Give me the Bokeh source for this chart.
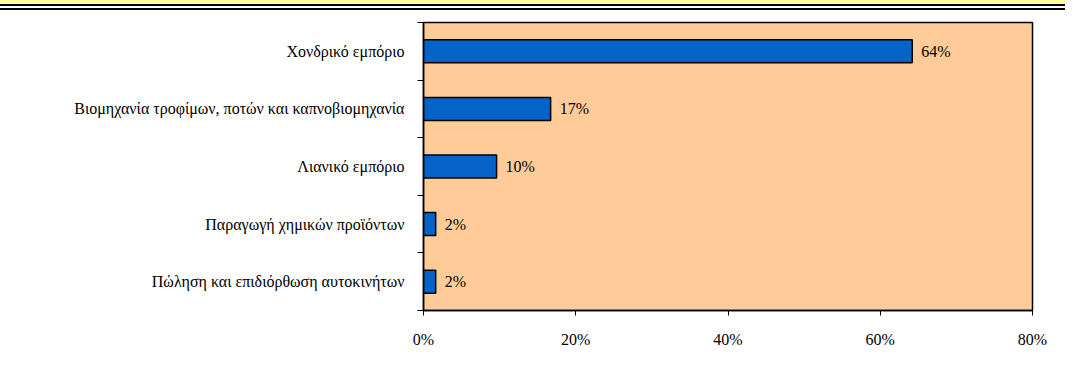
from bokeh.plotting import figure
from bokeh.models import (ColumnDataSource, FixedTicker, PrintfTickFormatter, Range1d, Div)
from bokeh.layouts import column
from bokeh.embed import file_html
from bokeh.resources import INLINE
from bokeh.core.properties import value

# ---- data ----
categories = [
    "Χονδρικό εμπόριο",
    "Βιομηχανία τροφίμων, ποτών και καπνοβιομηχανία",
    "Λιανικό εμπόριο",
    "Παραγωγή χημικών προϊόντων",
    "Πώληση και επιδιόρθωση αυτοκινήτων",
]
shares = [64.2, 16.7, 9.6, 1.6, 1.6]
x_ticks = [0, 20, 40, 60, 80]

FONT = "Liberation Serif"
n = len(categories)
positions = [n - i for i in range(n)]
labels = ["%d%%" % round(v) for v in shares]

src = ColumnDataSource(dict(cat=categories, y=positions, share=shares, label=labels))

# ---- decorative header band with double rule ----
header = Div(
    text="", width=1065, height=10, margin=0,
    styles={"background": "linear-gradient(#FFFF99 0px, #FFFF99 4px, #000 4px, #000 6px, "
                          "#fff 6px, #fff 8px, #000 8px, #000 10px)",
            "overflow": "hidden"},
)

# ---- main chart ----
p = figure(width=1065, height=350, x_range=Range1d(0, 80), y_range=Range1d(0.5, n + 0.5),
           toolbar_location=None, output_backend="svg",
           min_border_left=423, min_border_right=33, min_border_top=12, min_border_bottom=50,
           background_fill_color="#FFCC99", border_fill_color="white",
           outline_line_color="black", outline_line_width=1.5)
p.grid.visible = False

p.hbar(y="y", right="share", left=0, height=0.4, source=src,
       fill_color="#0563C8", line_color="black", line_width=1.5)
p.text(x="share", y="y", text="label", source=src, x_offset=9,
       text_align="left", text_baseline="middle",
       text_font=value(FONT), text_font_size="16px", text_color="black")

xa = p.xaxis[0]
xa.ticker = FixedTicker(ticks=x_ticks, minor_ticks=[])
xa.formatter = PrintfTickFormatter(format="%d%%")
xa.major_tick_in = 0
xa.major_tick_out = 5
xa.major_label_standoff = 15
xa.major_label_text_font = FONT
xa.major_label_text_font_size = "16px"
xa.major_label_text_color = "black"
xa.axis_line_color = "black"
xa.axis_line_width = 1.5
xa.major_tick_line_color = "black"

ya = p.yaxis[0]
ya.ticker = FixedTicker(ticks=positions, minor_ticks=[v + 0.5 for v in range(n + 1)])
ya.major_label_overrides = {pos: c for pos, c in zip(positions, categories)}
ya.major_tick_in = 0
ya.major_tick_out = 0
ya.minor_tick_in = 0
ya.minor_tick_out = 6
ya.minor_tick_line_color = "black"
ya.major_label_standoff = 13
ya.major_label_text_font = FONT
ya.major_label_text_font_size = "16px"
ya.major_label_text_color = "black"
ya.axis_line_color = "black"
ya.axis_line_width = 1.5

layout = column(header, p, spacing=0, width=1065, height=360,
                styles={"overflow": "hidden"})
open("out.html", "w").write(file_html(layout, INLINE))
